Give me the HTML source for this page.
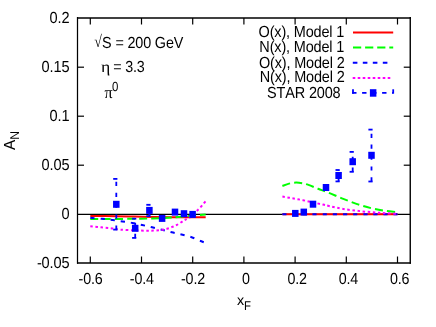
<!DOCTYPE html>
<html><head><meta charset="utf-8"><title>A_N vs x_F</title>
<style>html,body{margin:0;padding:0;background:#fff;}svg{display:block;will-change:transform;}text{text-rendering:geometricPrecision;letter-spacing:-0.15px;font-kerning:none;font-family:"Liberation Sans",sans-serif;fill:#000;}.sy{font-family:"Liberation Serif",serif;}</style>
</head><body>
<svg width="436" height="327" viewBox="0 0 436 327">
<rect x="0" y="0" width="436" height="327" fill="#ffffff"/>
<line x1="77.5" y1="214.4" x2="410.25" y2="214.4" stroke="#000" stroke-width="1.2"/>
<g fill="none" stroke-linecap="butt" stroke-linejoin="round">
<path d="M90.30,215.90 C94.58,215.95 108.55,216.08 116.00,216.20 C123.45,216.32 128.67,216.47 135.00,216.60 C141.33,216.73 146.50,216.88 154.00,217.00 C161.50,217.12 171.38,217.25 180.00,217.30 C188.62,217.35 201.42,217.30 205.70,217.30" stroke="#ff0000" stroke-width="2"/>
<path d="M282.40,214.30 C301.58,214.30 378.32,214.30 397.50,214.30" stroke="#ff0000" stroke-width="2"/>
<path d="M90.30,219.10 C95.25,219.07 111.72,218.95 120.00,218.90 C128.28,218.85 134.50,218.88 140.00,218.80 C145.50,218.72 148.33,218.58 153.00,218.40 C157.67,218.22 163.83,217.93 168.00,217.70 C172.17,217.47 174.67,217.28 178.00,217.00 C181.33,216.72 184.67,216.32 188.00,216.00 C191.33,215.68 195.05,215.35 198.00,215.10 C200.95,214.85 204.42,214.60 205.70,214.50" stroke="#00ff00" stroke-width="2" stroke-dasharray="8.1 4.1"/>
<path d="M282.40,186.00 C283.50,185.60 286.72,184.17 289.00,183.60 C291.28,183.03 293.85,182.65 296.10,182.60 C298.35,182.55 300.43,182.92 302.50,183.30 C304.57,183.68 305.90,183.98 308.50,184.90 C311.10,185.82 314.73,187.48 318.10,188.80 C321.47,190.12 324.50,191.12 328.70,192.80 C332.90,194.48 338.42,196.97 343.30,198.90 C348.18,200.83 353.40,202.87 358.00,204.40 C362.60,205.93 366.62,207.07 370.90,208.10 C375.18,209.13 379.58,209.93 383.70,210.60 C387.82,211.27 393.30,211.82 395.60,212.10 C397.90,212.38 397.18,212.27 397.50,212.30" stroke="#00ff00" stroke-width="2" stroke-dasharray="8.1 4.1"/>
<path d="M90.30,217.80 C92.30,217.97 98.63,218.43 102.30,218.80 C105.97,219.17 108.93,219.55 112.30,220.00 C115.67,220.45 119.13,221.02 122.50,221.50 C125.87,221.98 129.22,222.32 132.50,222.90 C135.78,223.48 138.93,224.27 142.20,225.00 C145.47,225.73 148.80,226.50 152.10,227.30 C155.40,228.10 158.72,228.97 162.00,229.80 C165.28,230.63 168.55,231.52 171.80,232.30 C175.05,233.08 178.20,233.68 181.50,234.50 C184.80,235.32 188.40,236.12 191.60,237.20 C194.80,238.28 198.35,240.03 200.70,241.00 C203.05,241.97 204.87,242.67 205.70,243.00" stroke="#0000ff" stroke-width="2" stroke-dasharray="4.3 5.9"/>
<path d="M282.40,214.30 C301.58,214.30 378.32,214.30 397.50,214.30" stroke="#0000ff" stroke-width="2" stroke-dasharray="4.1 6"/>
<path d="M90.30,226.20 C92.08,226.38 97.38,226.93 101.00,227.30 C104.62,227.67 108.83,228.02 112.00,228.40 C115.17,228.78 116.17,229.27 120.00,229.60 C123.83,229.93 130.42,230.22 135.00,230.40 C139.58,230.58 144.17,230.68 147.50,230.70 C150.83,230.72 152.70,230.63 155.00,230.50 C157.30,230.37 159.30,230.18 161.30,229.90 C163.30,229.62 165.17,229.30 167.00,228.80 C168.83,228.30 170.63,227.55 172.30,226.90 C173.97,226.25 175.25,225.85 177.00,224.90 C178.75,223.95 181.38,222.07 182.80,221.20 C184.22,220.33 184.38,220.30 185.50,219.70 C186.62,219.10 187.95,218.80 189.50,217.60 C191.05,216.40 193.52,213.67 194.80,212.50 C196.08,211.33 196.23,211.48 197.20,210.60 C198.17,209.72 199.47,208.45 200.60,207.20 C201.73,205.95 203.15,204.13 204.00,203.10 C204.85,202.07 205.42,201.35 205.70,201.00" stroke="#ff00ff" stroke-width="2" stroke-dasharray="2.5 2.6"/>
<path d="M282.40,196.60 C284.00,196.87 288.57,197.60 292.00,198.20 C295.43,198.80 299.50,199.50 303.00,200.20 C306.50,200.90 309.67,201.67 313.00,202.40 C316.33,203.13 320.17,203.97 323.00,204.60 C325.83,205.23 326.62,205.47 330.00,206.20 C333.38,206.93 338.02,208.15 343.30,209.00 C348.58,209.85 355.58,210.67 361.70,211.30 C367.82,211.93 374.03,212.38 380.00,212.80 C385.97,213.22 394.58,213.63 397.50,213.80" stroke="#ff00ff" stroke-width="2" stroke-dasharray="2.5 2.6"/>
</g>
<g stroke="#0000ff" stroke-width="1.8" fill="none" stroke-dasharray="4.2 6.7">
<path d="M116.3,229.6 L116.3,178.9"/>
<path d="M113.2,229.6 L119.4,229.6"/>
<path d="M113.2,178.9 L119.4,178.9"/>
<path d="M135.2,237.9 L135.2,218.7"/>
<path d="M132.1,237.9 L138.3,237.9"/>
<path d="M132.1,218.7 L138.3,218.7"/>
<path d="M149.4,216.1 L149.4,204.8"/>
<path d="M146.3,216.1 L152.5,216.1"/>
<path d="M146.3,204.8 L152.5,204.8"/>
<path d="M338.6,181.4 L338.6,170.0"/>
<path d="M335.5,181.4 L341.7,181.4"/>
<path d="M335.5,170.0 L341.7,170.0"/>
<path d="M352.7,171.8 L352.7,151.9"/>
<path d="M349.6,171.8 L355.8,171.8"/>
<path d="M349.6,151.9 L355.8,151.9"/>
<path d="M371.5,181.5 L371.5,129.6"/>
<path d="M368.4,181.5 L374.6,181.5"/>
<path d="M368.4,129.6 L374.6,129.6"/>
</g>
<g fill="#0000ff">
<rect x="113.05" y="200.80" width="6.5" height="7.0"/>
<rect x="131.95" y="224.80" width="6.5" height="7.0"/>
<rect x="146.15" y="206.90" width="6.5" height="7.0"/>
<rect x="158.85" y="214.90" width="6.5" height="7.0"/>
<rect x="171.75" y="208.60" width="6.5" height="7.0"/>
<rect x="180.75" y="210.20" width="6.5" height="7.0"/>
<rect x="189.35" y="210.90" width="6.5" height="7.0"/>
<rect x="292.05" y="209.90" width="6.5" height="7.0"/>
<rect x="300.55" y="208.60" width="6.5" height="7.0"/>
<rect x="309.75" y="200.70" width="6.5" height="7.0"/>
<rect x="322.75" y="184.00" width="6.5" height="7.0"/>
<rect x="335.35" y="172.00" width="6.5" height="7.0"/>
<rect x="349.45" y="158.20" width="6.5" height="7.0"/>
<rect x="368.25" y="151.80" width="6.5" height="7.0"/>
</g>
<g stroke="#000" fill="none">
<line x1="77.5" y1="17.0" x2="77.5" y2="263.75" stroke-width="1.25"/>
<line x1="77.0" y1="18.0" x2="410.95" y2="18.0" stroke-width="1.6"/>
<line x1="410.25" y1="17.0" x2="410.25" y2="263.75" stroke-width="1.4"/>
<line x1="77.0" y1="263.0" x2="410.95" y2="263.0" stroke-width="1.4"/>
<line x1="77.5" y1="67.2" x2="84.0" y2="67.2" stroke-width="1.2"/>
<line x1="410.25" y1="67.2" x2="403.75" y2="67.2" stroke-width="1.2"/>
<line x1="77.5" y1="116.2" x2="84.0" y2="116.2" stroke-width="1.2"/>
<line x1="410.25" y1="116.2" x2="403.75" y2="116.2" stroke-width="1.2"/>
<line x1="77.5" y1="165.2" x2="84.0" y2="165.2" stroke-width="1.2"/>
<line x1="410.25" y1="165.2" x2="403.75" y2="165.2" stroke-width="1.2"/>
<line x1="90.3" y1="263.0" x2="90.3" y2="256.5" stroke-width="1.2"/>
<line x1="90.3" y1="18.0" x2="90.3" y2="24.5" stroke-width="1.2"/>
<line x1="141.5" y1="263.0" x2="141.5" y2="256.5" stroke-width="1.2"/>
<line x1="141.5" y1="18.0" x2="141.5" y2="24.5" stroke-width="1.2"/>
<line x1="192.7" y1="263.0" x2="192.7" y2="256.5" stroke-width="1.2"/>
<line x1="192.7" y1="18.0" x2="192.7" y2="24.5" stroke-width="1.2"/>
<line x1="243.9" y1="263.0" x2="243.9" y2="256.5" stroke-width="1.2"/>
<line x1="243.9" y1="18.0" x2="243.9" y2="24.5" stroke-width="1.2"/>
<line x1="295.1" y1="263.0" x2="295.1" y2="256.5" stroke-width="1.2"/>
<line x1="295.1" y1="18.0" x2="295.1" y2="24.5" stroke-width="1.2"/>
<line x1="346.3" y1="263.0" x2="346.3" y2="256.5" stroke-width="1.2"/>
<line x1="346.3" y1="18.0" x2="346.3" y2="24.5" stroke-width="1.2"/>
<line x1="397.5" y1="263.0" x2="397.5" y2="256.5" stroke-width="1.2"/>
<line x1="397.5" y1="18.0" x2="397.5" y2="24.5" stroke-width="1.2"/>
</g>
<g font-size="14.3">
<text transform="translate(69.4,23.1) scale(1.02,1.12)" text-anchor="end">0.2</text>
<text transform="translate(69.4,72.2) scale(1.02,1.12)" text-anchor="end">0.15</text>
<text transform="translate(69.4,121.2) scale(1.02,1.12)" text-anchor="end">0.1</text>
<text transform="translate(69.4,170.2) scale(1.02,1.12)" text-anchor="end">0.05</text>
<text transform="translate(69.4,219.2) scale(1.02,1.12)" text-anchor="end">0</text>
<text transform="translate(69.4,268.1) scale(1.02,1.12)" text-anchor="end">-0.05</text>
<text transform="translate(90.6,283.8) scale(1.0,1.12)" text-anchor="middle">-0.6</text>
<text transform="translate(141.8,283.8) scale(1.0,1.12)" text-anchor="middle">-0.4</text>
<text transform="translate(193.0,283.8) scale(1.0,1.12)" text-anchor="middle">-0.2</text>
<text transform="translate(245.8,283.8) scale(1.0,1.12)" text-anchor="middle">0</text>
<text transform="translate(297.2,283.8) scale(1.0,1.12)" text-anchor="middle">0.2</text>
<text transform="translate(348.4,283.8) scale(1.0,1.12)" text-anchor="middle">0.4</text>
<text transform="translate(399.6,283.8) scale(1.0,1.12)" text-anchor="middle">0.6</text>
</g>
<text transform="translate(237.0,304.8) scale(1.0,1.0080000000000002)" font-size="14.3">x</text>
<text transform="translate(244.0,309.5) scale(1.0,1.12)" font-size="11.4">F</text>
<text transform="translate(14.5,149.9) rotate(-90) scale(1.07,1.12)" font-size="14.3">A<tspan font-size="11.4" dy="3.6" dx="0.2">N</tspan></text>
<text class="sy" transform="translate(94.3,46.8) scale(0.97,1.1760000000000002)" font-size="14.3">√</text>
<text transform="translate(102.1,47.7) scale(1.006,1.12)" font-size="14.3">S = 200 GeV</text>
<text class="sy" transform="translate(100.9,71.6) scale(1.24,1.12)" font-size="14.3">η</text>
<text transform="translate(113.2,71.5) scale(1.0,1.12)" font-size="14.3">= 3.3</text>
<text class="sy" transform="translate(104.5,98.1) scale(1.13,1.1760000000000002)" font-size="14.3">π</text>
<text transform="translate(111.9,90.9) scale(1.0,1.1648)" font-size="11.4">0</text>
<g font-size="14.3" text-anchor="end">
<text transform="translate(344.2,37.2) scale(1.012,1.12)">O(x), Model 1</text>
<text transform="translate(344.2,52.3) scale(1.012,1.12)">N(x), Model 1</text>
<text transform="translate(344.6,67.6) scale(1.012,1.12)">O(x), Model 2</text>
<text transform="translate(344.6,82.4) scale(1.012,1.12)">N(x), Model 2</text>
<text transform="translate(340.5,97.8) scale(1.012,1.12)">STAR 2008</text>
</g>
<g fill="none" stroke-width="2">
<line x1="353.0" y1="32.4" x2="393.2" y2="32.4" stroke="#ff0000"/>
<line x1="353.0" y1="47.4" x2="393.2" y2="47.4" stroke="#00ff00" stroke-dasharray="8.2 3.9"/>
<line x1="352.8" y1="62.8" x2="392" y2="62.8" stroke="#0000ff" stroke-dasharray="4.6 5.4"/>
<line x1="352.7" y1="77.9" x2="391" y2="77.9" stroke="#ff00ff" stroke-dasharray="2.6 2.4"/>
</g>
<g stroke="#0000ff" stroke-width="1.8" fill="none" stroke-dasharray="4.4 5.6">
<line x1="352.1" y1="92.9" x2="393.2" y2="92.9"/>
<line x1="353.0" y1="89.3" x2="353.0" y2="96.3"/>
<line x1="393.2" y1="89.3" x2="393.2" y2="96.3"/>
</g>
<rect x="369.9" y="89.2" width="6.5" height="7.5" fill="#0000ff"/>
</svg>
</body></html>
